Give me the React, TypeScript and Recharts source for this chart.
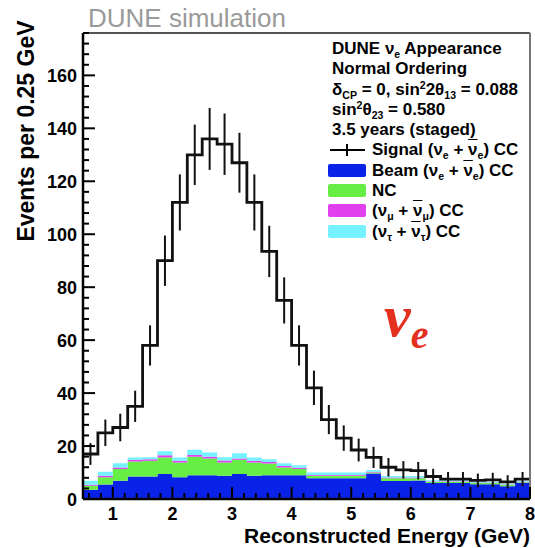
import React from 'react';
import { ComposedChart, Area, Line, Scatter, ErrorBar, XAxis, YAxis, ReferenceLine, Legend } from 'recharts';

// ---- data ----
const binLow = [0.5, 0.75, 1, 1.25, 1.5, 1.75, 2, 2.25, 2.5, 2.75, 3, 3.25, 3.5, 3.75, 4, 4.25, 4.5, 4.75, 5, 5.25, 5.5, 5.75, 6, 6.25, 6.5, 6.75, 7, 7.25, 7.5, 7.75];
const binWidth = 0.25;
const xMax = 8;
const signal = [17, 25, 27, 35, 58, 90, 112, 130, 136, 134, 127, 112, 93.5, 75, 58, 42, 30, 23, 18.5, 15.7, 12, 11, 10.7, 8.5, 7.5, 7.5, 7, 7.2, 6.5, 7.5];
const signalErr = [4.1, 5, 5.2, 5.9, 7.6, 9.5, 10.6, 11.4, 11.7, 11.6, 11.3, 10.6, 9.7, 8.7, 7.6, 6.5, 5.5, 4.8, 4.3, 4, 3.5, 3.3, 3.3, 2.9, 2.7, 2.7, 2.6, 2.7, 2.5, 2.7];
const beam = [3.5, 5.5, 6.9, 8.5, 8.5, 9.4, 8.2, 9.0, 9.0, 8.8, 9.4, 8.8, 9.0, 9.0, 9.0, 7.8, 7.8, 7.8, 7.8, 9.6, 6.8, 6.8, 7.0, 6.0, 6.0, 6.0, 5.6, 5.6, 4.8, 6.0];
const nc = [1.5, 2.7, 4.4, 5.7, 5.9, 6.3, 5.6, 7.0, 6.3, 5.0, 5.4, 5.0, 4.4, 2.9, 2.3, 1.0, 1.0, 1.0, 1.0, 0.4, 1.0, 1.0, 0.8, 0.5, 0.5, 0.5, 0.4, 0.4, 0.5, 0.3];
const numu = [0.4, 0.6, 0.6, 0.6, 0.6, 0.8, 0.6, 0.6, 0.7, 0.7, 0.5, 0.6, 0.6, 0.6, 0.5, 0.3, 0.3, 0.3, 0.3, 0.3, 0.3, 0.3, 0.3, 0.2, 0.2, 0.2, 0.2, 0.2, 0.2, 0.2];
const nutau = [1.5, 1.5, 1.6, 0.9, 0.8, 1.5, 1.3, 2.0, 1.6, 1.3, 2.0, 1.3, 1.0, 1.0, 0.9, 0.9, 0.9, 0.9, 0.9, 0.7, 0.6, 0.6, 0.6, 0.4, 0.4, 0.4, 0.3, 0.3, 0.3, 0.3];

const xMajorTicks = [1, 2, 3, 4, 5, 6, 7, 8];
const xAllTicks = [0.6, 0.8, 1, 1.2, 1.4, 1.6, 1.8, 2, 2.2, 2.4, 2.6, 2.8, 3, 3.2, 3.4, 3.6, 3.8, 4, 4.2, 4.4, 4.6, 4.8, 5, 5.2, 5.4, 5.6, 5.8, 6, 6.2, 6.4, 6.6, 6.8, 7, 7.2, 7.4, 7.6, 7.8, 8];
const yMajorTicks = [0, 20, 40, 60, 80, 100, 120, 140, 160];
const yMinorStep = 4;
const yMax = 176;

const COLORS = { beam: '#0a22e8', nc: '#66ee44', numu: '#e040ee', nutau: '#74f2ff' };
const FONT = '"Liberation Sans", Arial, Helvetica, sans-serif';

// ---- tables built from the arrays ----
const histData = [
  ...binLow.map((e, i) => ({ e, signal: signal[i], beam: beam[i], nc: nc[i], numu: numu[i], nutau: nutau[i] })),
  { e: xMax, signal: signal[signal.length - 1], beam: beam[beam.length - 1], nc: nc[nc.length - 1], numu: numu[numu.length - 1], nutau: nutau[nutau.length - 1] },
];
const errData = binLow.map((e, i) => ({ e: e + binWidth / 2, s: signal[i], err: signalErr[i] }));
const yAllTicks: number[] = [];
for (let v = 0; v <= yMax; v += yMinorStep) yAllTicks.push(v);

// ---- layout ----
const W = 535, H = 548;
const PLOT_L = 83, PLOT_B = 499;
const MAJOR_LEN = 12, MINOR_LEN = 6;

const XTickLabel = (props: any) => {
  const { x, payload } = props;
  if (!xMajorTicks.includes(payload.value)) return <g />;
  return (
    <text x={x} y={520} textAnchor="middle" fontSize={18} fontWeight="bold" fontFamily={FONT} fill="#000">
      {payload.value}
    </text>
  );
};

const YTickLabel = (props: any) => {
  const { y, payload } = props;
  if (!yMajorTicks.includes(payload.value)) return <g />;
  return (
    <text x={77} y={y} dy={6.5} textAnchor="end" fontSize={18} fontWeight="bold" fontFamily={FONT} fill="#000">
      {payload.value}
    </text>
  );
};

const sub: React.CSSProperties = { fontSize: '0.62em', verticalAlign: '-0.35em', lineHeight: 0 };
const sup: React.CSSProperties = { fontSize: '0.62em', verticalAlign: '0.55em', lineHeight: 0 };
const bar: React.CSSProperties = { textDecoration: 'overline' };

const Swatch = ({ color }: { color: string }) => (
  <span style={{ display: 'inline-block', width: 38, height: 13, background: color, borderRadius: 2, marginRight: 6, verticalAlign: '-1px' }} />
);
const SignalMark = () => (
  <svg width={38} height={14} style={{ marginRight: 6, verticalAlign: '-2px' }}>
    <line x1={2} x2={37} y1={7} y2={7} stroke="#000" strokeWidth={2} />
    <line x1={19} x2={19} y1={1} y2={13} stroke="#000" strokeWidth={2} />
  </svg>
);

const renderLegend = () => (
  <div style={{ position: 'absolute', left: 332, top: 39, width: 200, font: `bold 17px ${FONT}`, lineHeight: '20.3px', color: '#000', whiteSpace: 'nowrap' }}>
    <div>DUNE ν<span style={sub}>e</span> Appearance</div>
    <div>Normal Ordering</div>
    <div>δ<span style={sub}>CP</span> = 0, sin<span style={sup}>2</span>2θ<span style={sub}>13</span> = 0.088</div>
    <div>sin<span style={sup}>2</span>θ<span style={sub}>23</span> = 0.580</div>
    <div>3.5 years (staged)</div>
    <div style={{ marginLeft: -4 }}><SignalMark />Signal (ν<span style={sub}>e</span> + <span style={bar}>ν</span><span style={sub}>e</span>) CC</div>
    <div style={{ marginLeft: -4 }}><Swatch color={COLORS.beam} />Beam (ν<span style={sub}>e</span> + <span style={bar}>ν</span><span style={sub}>e</span>) CC</div>
    <div style={{ marginLeft: -4 }}><Swatch color={COLORS.nc} />NC</div>
    <div style={{ marginLeft: -4 }}><Swatch color={COLORS.numu} />(ν<span style={sub}>μ</span> + <span style={bar}>ν</span><span style={sub}>μ</span>) CC</div>
    <div style={{ marginLeft: -4 }}><Swatch color={COLORS.nutau} />(ν<span style={sub}>τ</span> + <span style={bar}>ν</span><span style={sub}>τ</span>) CC</div>
  </div>
);

export default function App() {
  return (
    <div style={{ position: 'absolute', left: 0, top: 0, width: W, height: H, background: '#fff' }}>
      <ComposedChart width={W} height={H} data={histData} margin={{ top: 33, right: 5, bottom: 19, left: 20 }}>
        <XAxis
          dataKey="e"
          type="number"
          domain={[0.5, xMax]}
          ticks={xAllTicks}
          interval={0}
          tick={<XTickLabel />}
          tickLine={false}
          axisLine={{ stroke: '#000', strokeWidth: 2.5 }}
          height={30}
          allowDataOverflow
          label={() => (
            <text x={530} y={543} textAnchor="end" fontSize={21} fontWeight="bold" fontFamily={FONT} fill="#000">
              Reconstructed Energy (GeV)
            </text>
          )}
        />
        <YAxis
          type="number"
          domain={[0, yMax]}
          ticks={yAllTicks}
          interval={0}
          tick={<YTickLabel />}
          tickLine={false}
          axisLine={{ stroke: '#000', strokeWidth: 2.5 }}
          width={63}
          allowDataOverflow
          label={() => (
            <text x={34} y={131} transform="rotate(-90 34 131)" textAnchor="middle" fontSize={23} fontWeight="bold" fontFamily={FONT} fill="#000">
              Events per 0.25 GeV
            </text>
          )}
        />
        <Area type="stepAfter" dataKey="beam" stackId="bg" stroke="none" fill={COLORS.beam} fillOpacity={1} isAnimationActive={false} />
        <Area type="stepAfter" dataKey="nc" stackId="bg" stroke="none" fill={COLORS.nc} fillOpacity={1} isAnimationActive={false} />
        <Area type="stepAfter" dataKey="numu" stackId="bg" stroke="none" fill={COLORS.numu} fillOpacity={1} isAnimationActive={false} />
        <Area type="stepAfter" dataKey="nutau" stackId="bg" stroke="none" fill={COLORS.nutau} fillOpacity={1} isAnimationActive={false} />
        <Line type="stepAfter" dataKey="signal" stroke="#111" strokeWidth={2.8} dot={false} isAnimationActive={false} />
        <Scatter data={errData} dataKey="s" shape={() => <g />} isAnimationActive={false}>
          <ErrorBar dataKey="err" direction="y" width={0} stroke="#111" strokeWidth={2} />
        </Scatter>
        <ReferenceLine y={yMax} stroke="#555" strokeWidth={2} />
        <ReferenceLine x={xMax} stroke="#777" strokeWidth={2} />
        {xAllTicks.map((v) => (
          <ReferenceLine
            key={`xt${v}`}
            x={v}
            shape={(p: any) => (
              <line x1={p.x1} x2={p.x1} y1={PLOT_B} y2={PLOT_B - (xMajorTicks.includes(v) ? MAJOR_LEN : MINOR_LEN)} stroke="#000" strokeWidth={2} />
            )}
          />
        ))}
        {yAllTicks.map((v) => (
          <ReferenceLine
            key={`yt${v}`}
            y={v}
            shape={(p: any) => (
              <line x1={PLOT_L} x2={PLOT_L + (yMajorTicks.includes(v) ? MAJOR_LEN : MINOR_LEN)} y1={p.y1} y2={p.y1} stroke="#000" strokeWidth={2} />
            )}
          />
        ))}
        <Legend content={renderLegend} wrapperStyle={{ left: 0, top: 0, width: 0, height: 0, overflow: 'visible' }} />
      </ComposedChart>
      <svg width={W} height={H} style={{ position: 'absolute', left: 0, top: 0, pointerEvents: 'none' }}>
        <text x={88} y={27} fontSize={26} fontFamily={FONT} fill="#9a9a9a">DUNE simulation</text>
        <text x={384} y={336} fontSize={60} fontStyle="italic" fontWeight="bold" fontFamily='"Liberation Serif", "DejaVu Serif", serif' fill="#e3301f">
          ν<tspan fontSize={40} dy={12}>e</tspan>
        </text>
      </svg>
    </div>
  );
}
